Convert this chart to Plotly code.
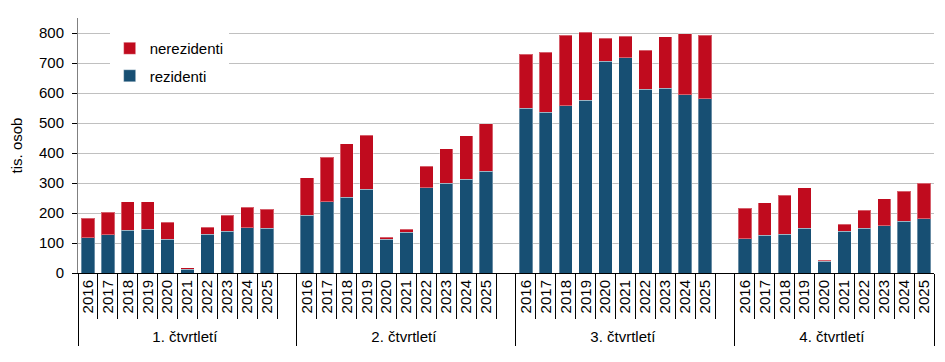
import plotly.graph_objects as go

quarters = ["1. čtvrtletí", "2. čtvrtletí", "3. čtvrtletí", "4. čtvrtletí"]
years = ["2016", "2017", "2018", "2019", "2020", "2021", "2022", "2023", "2024", "2025"]

# tis. osob - rezidenti / celkem podle čtvrtletí
rez_q1 = [118, 127, 142, 146, 113, 13, 129, 140, 151, 149]
tot_q1 = [182, 202, 237, 237, 170, 17, 153, 192, 220, 213]
rez_q2 = [193, 237, 252, 279, 112, 136, 284, 299, 312, 339]
tot_q2 = [317, 386, 431, 459, 120, 146, 356, 414, 457, 498]
rez_q3 = [549, 536, 558, 576, 706, 718, 612, 616, 594, 581]
tot_q3 = [729, 736, 793, 803, 783, 790, 742, 788, 797, 792]
rez_q4 = [114, 126, 129, 149, 40, 139, 149, 158, 173, 181]
tot_q4 = [216, 234, 260, 284, 43, 163, 209, 248, 273, 300]

rez = [rez_q1, rez_q2, rez_q3, rez_q4]
tot = [tot_q1, tot_q2, tot_q3, tot_q4]

x_outer, x_inner, y_rez, y_nerez = [], [], [], []
for i, q in enumerate(quarters):
    for j, yr in enumerate(years):
        x_outer.append(q)
        x_inner.append(yr)
        y_rez.append(rez[i][j])
        y_nerez.append(tot[i][j] - rez[i][j])
    if i < len(quarters) - 1:
        # prázdné místo za skupinou
        x_outer.append(q)
        x_inner.append(" ")
        y_rez.append(None)
        y_nerez.append(None)

font = dict(family="Liberation Sans, Arial, sans-serif", size=15, color="#000000")

fig = go.Figure()
fig.add_trace(go.Bar(x=[x_outer, x_inner], y=y_rez, name="rezidenti",
                     legendgroup="r", legendrank=2,
                     marker=dict(color="#174f73", line=dict(color="rgba(255,255,255,0.35)", width=1))))
fig.add_trace(go.Bar(x=[x_outer, x_inner], y=y_nerez, name="nerezidenti",
                     legendgroup="n", legendrank=1,
                     marker=dict(color="#c00b1e", line=dict(color="rgba(255,255,255,0.35)", width=1))))

# stránka má okraj 8 px, proto menší okraje a rozměr
fig.update_layout(
    width=937, height=354,
    margin=dict(l=70, r=11, t=10, b=89),
    barmode="stack", bargap=0.33,
    plot_bgcolor="white", paper_bgcolor="white",
    font=font,
    legend=dict(x=0.037, y=0.945, xanchor="left", yanchor="top",
                bgcolor="white", font=font, tracegroupgap=5,
                traceorder="grouped"),
)
fig.update_xaxes(
    type="multicategory", tickangle=-90, tickson="boundaries",
    ticks="outside", ticklen=45, tickcolor="#000000", tickwidth=1,
    showline=True, linecolor="#000000", linewidth=1,
    showdividers=True, dividercolor="#000000", dividerwidth=1,
    showgrid=False, automargin=False, tickfont=font,
)
fig.update_yaxes(
    range=[0, 850], dtick=100, tick0=0,
    showgrid=True, gridcolor="#c0c0c0", gridwidth=1,
    showline=True, linecolor="#808080", linewidth=1,
    ticks="outside", ticklen=5, tickcolor="#000000", ticklabelstandoff=5,
    zeroline=False, tickfont=font, automargin=False,
    title=dict(text="tis. osob", font=font, standoff=14),
)

fig.write_html("out.html")
